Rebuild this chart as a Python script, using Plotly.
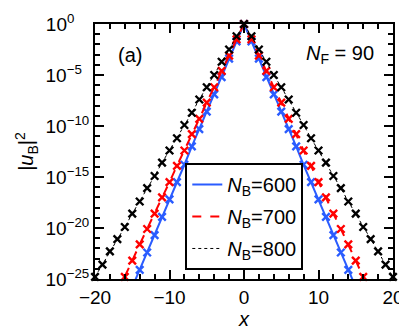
import plotly.graph_objects as go

# x grid (integer sites) for each series
x_600 = [-15, -14, -13, -12, -11, -10, -9, -8, -7, -6, -5, -4, -3, -2, -1, 0,
         1, 2, 3, 4, 5, 6, 7, 8, 9, 10, 11, 12, 13, 14, 15]
x_700 = [-17, -16, -15, -14, -13, -12, -11, -10, -9, -8, -7, -6, -5, -4, -3, -2, -1, 0,
         1, 2, 3, 4, 5, 6, 7, 8, 9, 10, 11, 12, 13, 14, 15, 16, 17]
x_800 = [-20, -19, -18, -17, -16, -15, -14, -13, -12, -11, -10, -9, -8, -7, -6, -5, -4, -3, -2, -1, 0,
         1, 2, 3, 4, 5, 6, 7, 8, 9, 10, 11, 12, 13, 14, 15, 16, 17, 18, 19, 20]

# log10 |u_B|^2
log_600 = [-25.8, -24.1, -22.4, -20.7, -18.9, -17.2, -15.5, -13.8, -12.0, -10.3, -8.6, -6.9, -5.2, -3.4, -1.7, 0.0,
           -1.7, -3.4, -5.2, -6.9, -8.6, -10.3, -12.0, -13.8, -15.5, -17.2, -18.9, -20.7, -22.4, -24.1, -25.8]
log_700 = [-26.3, -24.8, -23.2, -21.6, -20.1, -18.6, -17.0, -15.5, -13.9, -12.4, -10.8, -9.3, -7.7, -6.2, -4.6, -3.1, -1.5, 0.0,
           -1.5, -3.1, -4.6, -6.2, -7.7, -9.3, -10.8, -12.4, -13.9, -15.5, -17.0, -18.6, -20.1, -21.6, -23.2, -24.8, -26.3]
log_800 = [-24.8, -23.6, -22.3, -21.1, -19.9, -18.6, -17.4, -16.1, -14.9, -13.6, -12.4, -11.2, -9.9, -8.7, -7.4, -6.2, -5.0, -3.7, -2.5, -1.2, 0.0,
           -1.2, -2.5, -3.7, -5.0, -6.2, -7.4, -8.7, -9.9, -11.2, -12.4, -13.6, -14.9, -16.1, -17.4, -18.6, -19.9, -21.1, -22.3, -23.6, -24.8]

names = ['<i>N</i><sub>B</sub>=600', '<i>N</i><sub>B</sub>=700', '<i>N</i><sub>B</sub>=800']
colors = ['#2a5cff', '#ff0000', '#000000']
dashes = ['solid', 'dash', 'dot']
widths = [2, 2, 1]

y_exp = [0, -5, -10, -15, -20, -25]
# figure spaces pad the short exponents so the "10" lines up on the left
y_ticktext = ['10<sup>0\u2007\u2007</sup>', '10<sup>\u22125\u2007</sup>', '10<sup>\u221210</sup>',
              '10<sup>\u221215</sup>', '10<sup>\u221220</sup>', '10<sup>\u221225</sup>']
x_ticks = [-20, -10, 0, 10, 20]
x_ticktext = ['\u221220', '\u221210', '0', '10', '20']

FONT = 'Liberation Sans, Arial, sans-serif'

fig = go.Figure()
series = [(x_600, log_600), (x_700, log_700), (x_800, log_800)]
for i, (xs, ls) in enumerate(series):
    ys = [10 ** v for v in ls]
    fig.add_trace(go.Scatter(x=xs, y=ys, mode='lines', name=names[i],
                             legendgroup=str(i),
                             line=dict(color=colors[i], dash=dashes[i], width=widths[i])))
    keep = [k for k in range(len(xs)) if ls[k] >= -25.2]
    fig.add_trace(go.Scatter(x=[xs[k] for k in keep], y=[ys[k] for k in keep],
                             mode='markers', showlegend=False, cliponaxis=False,
                             marker=dict(symbol='x-thin', size=7.5, color=colors[i],
                                         line=dict(width=2.4, color=colors[i]))))

# page body adds an 8px offset, so margins are shifted by 8 to land the frame in place
fig.update_layout(width=407, height=327,
                  margin=dict(l=87, r=22, t=16, b=56),
                  paper_bgcolor='white', plot_bgcolor='white',
                  font=dict(family=FONT, size=20, color='black'),
                  legend=dict(x=0.303, y=0.455, xanchor='left', yanchor='top',
                              bgcolor='white', bordercolor='black', borderwidth=2,
                              font=dict(size=20), traceorder='grouped',
                              tracegroupgap=3, itemwidth=30),
                  annotations=[dict(text='(a)', x=0.1174, y=0.878, xref='paper', yref='paper',
                                    xanchor='center', yanchor='middle',
                                    showarrow=False, font=dict(size=20)),
                               dict(text='<i>N</i><sub>F</sub> = 90', x=0.701, y=0.88,
                                    xref='paper', yref='paper', xanchor='left', yanchor='middle',
                                    showarrow=False, font=dict(size=20))])

fig.update_xaxes(range=[-20, 20], tickvals=x_ticks, ticktext=x_ticktext,
                 ticks='inside', ticklen=9, tickwidth=1.5, tickcolor='black',
                 minor=dict(dtick=2, ticks='inside', ticklen=5, tickwidth=1.5, tickcolor='black'),
                 showline=True, linewidth=2, linecolor='black', mirror='ticks',
                 showgrid=False, zeroline=False, automargin=False,
                 tickfont=dict(size=19),
                 title=dict(text='<i>x</i>', font=dict(size=20), standoff=0))

fig.update_yaxes(type='log', range=[-25, 0],
                 tickvals=[10 ** e for e in y_exp], ticktext=y_ticktext,
                 ticks='inside', ticklen=9, tickwidth=1.5, tickcolor='black',
                 minor=dict(tickvals=[10 ** (-e) for e in range(26)], ticks='inside',
                            ticklen=5, tickwidth=1.5, tickcolor='black'),
                 showline=True, linewidth=2, linecolor='black', mirror='ticks',
                 showgrid=False, zeroline=False, automargin=False,
                 tickfont=dict(size=19),
                 title=dict(text='|<i>u</i><sub>B</sub>|<sup>2</sup>', font=dict(size=20), standoff=6))

fig.write_html("out.html")
